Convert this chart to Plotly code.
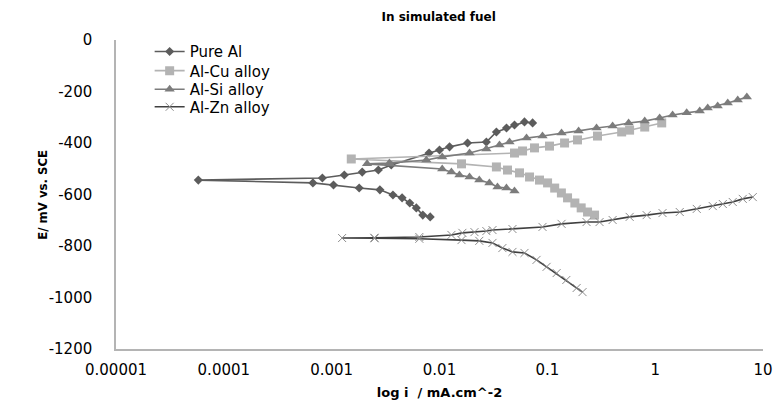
import plotly.graph_objects as go

# Pure Al (cathodic end -> corrosion potential -> anodic end)
al_i = [0.0082, 0.0070, 0.0061, 0.0053, 0.0045, 0.0037, 0.0028, 0.0018, 0.00104, 0.00067,
        0.000058,
        0.00082, 0.00131, 0.00192, 0.00271, 0.00357, 0.0080, 0.0100, 0.0124, 0.0182,
        0.0272, 0.0337, 0.0418, 0.0496, 0.0614, 0.073]
al_e = [-687, -680, -652, -633, -613, -602, -582, -575, -563, -555,
        -544,
        -536, -524, -513, -505, -485, -439, -427, -415, -400,
        -396, -357, -342, -330, -318, -322]

# Al-Cu alloy
cu_i = [0.274, 0.236, 0.206, 0.180, 0.154, 0.135, 0.117, 0.1005, 0.0846, 0.0684, 0.0552,
        0.0427, 0.0337, 0.0160,
        0.00152,
        0.0496, 0.0589, 0.0760, 0.1047, 0.1445, 0.1905, 0.292, 0.489, 0.579, 0.80, 1.15]
cu_e = [-680, -668, -652, -633, -613, -594, -575, -555, -544, -532, -516,
        -505, -493, -481,
        -462,
        -439, -431, -419, -412, -400, -388, -373, -357, -350, -338, -322]

# Al-Si alloy
si_i = [0.0496, 0.0418, 0.0345, 0.0290, 0.0234, 0.0190, 0.0153, 0.0129, 0.0106,
        0.00213,
        0.00343, 0.00755, 0.0106, 0.0190, 0.0272, 0.0360, 0.0446, 0.0641, 0.0902, 0.1355,
        0.195, 0.286, 0.403, 0.567, 0.80, 1.10, 1.45, 1.96, 2.59, 3.07, 3.80, 4.71, 5.83, 7.08]
si_e = [-586, -575, -571, -555, -544, -532, -524, -513, -501,
        -481,
        -478, -466, -454, -439, -423, -408, -396, -381, -373, -361,
        -353, -342, -334, -322, -315, -303, -291, -283, -276, -264, -256, -245, -233, -221]

# Al-Zn alloy
zn_i = [0.212, 0.187, 0.150, 0.122, 0.0984, 0.0794, 0.0614, 0.0475, 0.0383, 0.0310, 0.0234, 0.0160,
        0.0065, 0.0025,
        0.00125,
        0.00249, 0.0065, 0.0129, 0.0163, 0.0211, 0.0272, 0.0310, 0.0475, 0.0902, 0.1355,
        0.231, 0.305, 0.403, 0.580, 0.834, 1.17, 1.69, 2.43, 3.42, 4.24, 5.24, 6.49, 8.04]
zn_e = [-979, -963, -932, -905, -881, -854, -827, -823, -808, -788, -780, -777,
        -772, -770,
        -769,
        -768, -765, -757, -749, -746, -742, -738, -734, -726, -714,
        -707, -707, -699, -687, -680, -672, -668, -656, -645, -637, -629, -617, -610]

series_names = ["Pure Al", "Al-Cu alloy", "Al-Si alloy", "Al-Zn alloy"]

x_tickvals = [0.00001, 0.0001, 0.001, 0.01, 0.1, 1, 10]
x_ticktext = ["0.00001", "0.0001", "0.001", "0.01", "0.1", "1", "10"]
y_tickvals = [0, -200, -400, -600, -800, -1000, -1200]
y_ticktext = ["0", "-200", "-400", "-600", "-800", "-1000", "-1200"]

WIDE = "DejaVu Sans, Verdana, sans-serif"

fig = go.Figure()
fig.add_trace(go.Scatter(x=al_i, y=al_e, name=series_names[0], mode="lines+markers", legend="legend",
                         line=dict(color="#5c5c5c", width=1.6),
                         marker=dict(symbol="diamond", size=7, color="#5c5c5c")))
fig.add_trace(go.Scatter(x=cu_i, y=cu_e, name=series_names[1], mode="lines+markers", legend="legend2",
                         line=dict(color="#b3b3b3", width=1.6),
                         marker=dict(symbol="square", size=9, color="#b3b3b3")))
fig.add_trace(go.Scatter(x=si_i, y=si_e, name=series_names[2], mode="lines+markers", legend="legend3",
                         line=dict(color="#7c7c7c", width=1.6),
                         marker=dict(symbol="triangle-up", size=9, color="#7c7c7c")))
fig.add_trace(go.Scatter(x=zn_i, y=zn_e, name=series_names[3], mode="lines+markers", legend="legend4",
                         line=dict(color="#404040", width=1.6),
                         marker=dict(symbol="x-thin", size=8, color="#8c8c8c",
                                     line=dict(color="#8c8c8c", width=1))))

def leg(ypos):
    return dict(x=0.052, y=ypos, xanchor="left", yanchor="middle", bgcolor="rgba(0,0,0,0)",
                font=dict(family=WIDE, size=15, color="#000000"), itemwidth=30)

fig.update_layout(
    width=775, height=400,
    margin=dict(l=116, r=12, t=40, b=51, autoexpand=False),
    paper_bgcolor="white", plot_bgcolor="white",
    font=dict(family=WIDE, size=14, color="#000000"),
    title=dict(text="<b>In simulated fuel</b>", x=0.566, xanchor="center", y=0.957, yanchor="middle",
               font=dict(family=WIDE, size=12, color="#000000"), automargin=False),
    showlegend=True,
    legend=leg(0.962),
    legend2=leg(0.900),
    legend3=leg(0.840),
    legend4=leg(0.783),
    xaxis=dict(type="log", range=[-5, 1], tickvals=x_tickvals, ticktext=x_ticktext, automargin=False,
               showgrid=False, zeroline=False, showline=True, linecolor="#b4b4b4", linewidth=1.5,
               ticks="", ticklabelstandoff=6, tickfont=dict(family=WIDE, size=15),
               title=dict(text="<b>log i  / mA.cm^-2</b>", font=dict(family=WIDE, size=13), standoff=12)),
    yaxis=dict(range=[-1200, 0], tickvals=y_tickvals, ticktext=y_ticktext, automargin=False,
               showgrid=False, zeroline=False, showline=True, linecolor="#b4b4b4", linewidth=1.5,
               ticks="", ticklabelstandoff=19, tickfont=dict(family=WIDE, size=15)),
    annotations=[dict(text="<b>E/ mV vs. SCE</b>", textangle=-90, xref="paper", yref="paper",
                      x=-0.114, y=0.5, xanchor="center", yanchor="middle", showarrow=False,
                      font=dict(family="Liberation Sans Narrow, DejaVu Sans Condensed, Liberation Sans, sans-serif",
                                size=13, color="#000000"))],
)

fig.write_html("out.html", config={"displayModeBar": False},
               post_script="document.body.style.margin='0';document.body.style.padding='0';document.body.style.overflow='hidden';")
